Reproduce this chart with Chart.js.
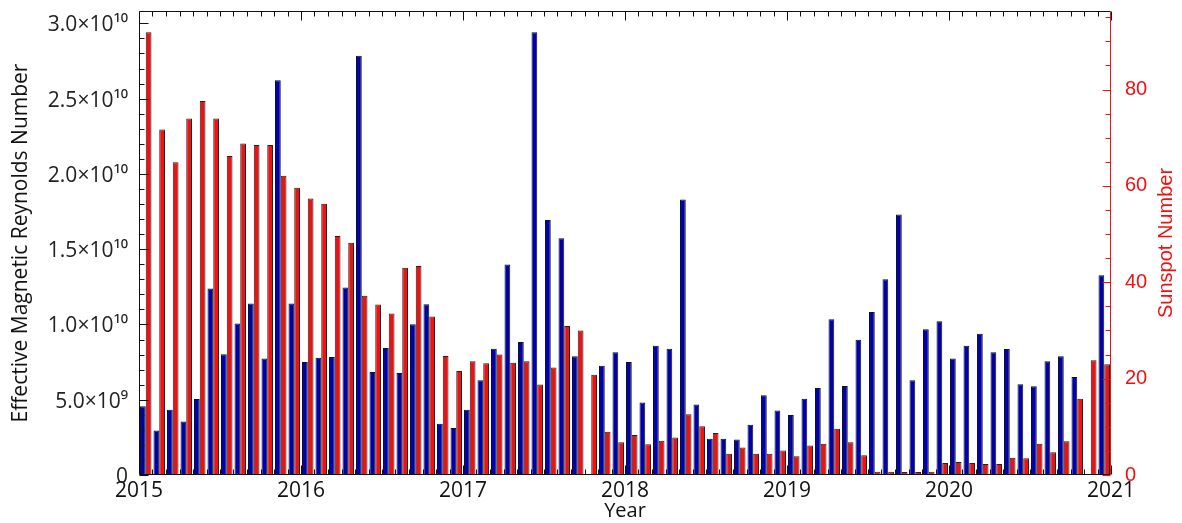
<!DOCTYPE html>
<html lang="en">
<head>
  <meta charset="UTF-8">
  <title>Effective Magnetic Reynolds Number vs Sunspot Number</title>
  <style>
    html, body { margin: 0; padding: 0; background: #fff; }
    #grafico { display: block; }
  </style>
</head>
<body>
  <canvas id="grafico" width="1182" height="523"></canvas>
  <script src="https://cdn.jsdelivr.net/npm/chart.js"></script>
  <script>
    // monthly data, Jan 2015 .. Dec 2020
    const startYear = 2015;
    const endYear = 2021;
    const months = [];
    for (let a = startYear; a < endYear; a++) {
      for (let m = 1; m <= 12; m++) months.push(a + '-' + String(m).padStart(2, '0'));
    }

    // effective magnetic Reynolds number, in units of 1e9 (null = no value)
    const reynolds = [
      4.56, 2.96, 4.33, 3.56, 5.04, 12.38, 8.02, 10.06, 11.39, 7.73, 26.22, 11.39,
      7.51, 7.79, 7.84, 12.45, 27.84, 6.84, 8.44, 6.77, 10.01, 11.34, 3.40, 3.12,
      4.33, 6.29, 8.39, 13.98, 8.84, 29.41, 16.93, 15.73, 7.88, null, 7.26, 8.15,
      7.51, 4.82, 8.59, 8.39, 18.30, 4.69, 2.41, 2.41, 2.36, 3.34, 5.29, 4.29,
      3.98, 5.07, 5.78, 10.34, 5.91, 8.99, 10.83, 13.00, 17.31, 6.29, 9.68, 10.21,
      7.73, 8.59, 9.39, 8.15, 8.37, 6.02, 5.89, 7.55, 7.88, 6.51, null, 13.27
    ];

    // monthly sunspot number
    const sunspots = [
      91.9, 71.7, 64.9, 74.0, 77.6, 74.0, 66.2, 68.8, 68.5, 68.5, 62.1, 59.6,
      57.4, 56.3, 49.6, 48.2, 37.2, 35.4, 33.5, 43.0, 43.4, 32.9, 24.7, 21.6,
      23.6, 23.2, 25.0, 23.3, 23.6, 18.8, 22.3, 30.9, 30.0, 20.8, 9.0, 6.8,
      8.3, 6.4, 7.1, 7.8, 12.6, 10.1, 8.7, 4.4, 5.7, 4.4, 4.4, 5.1,
      3.9, 6.1, 6.5, 9.6, 6.8, 4.1, 0.7, 0.7, 0.6, 0.6, 0.7, 2.5,
      2.7, 2.5, 2.3, 2.3, 3.6, 3.5, 6.5, 4.7, 7.0, 15.8, 23.8, 23.0
    ];

    const reynoldsTicks = [0, 5, 10, 15, 20, 25, 30];
    const reynoldsTickLabels = ['0', '5.0×10⁹', '1.0×10¹⁰', '1.5×10¹⁰', '2.0×10¹⁰', '2.5×10¹⁰', '3.0×10¹⁰'];
    const sunspotTicks = [0, 20, 40, 60, 80];
    const yearTicks = [2015, 2016, 2017, 2018, 2019, 2020, 2021];

    const reynoldsMax = 30.82;
    const sunspotMax = 96.3;

    const AZUL = '#0000b0';
    const VERMELHO = '#ee1111';

    // each month sits in the middle of its slot on the decimal-year axis
    const mesX = months.map((m, i) => startYear + (i + 0.5) / 12);

    // frame and inward IDL-style ticks, plus the right-hand title
    const moldura = {
      id: 'moldura',
      afterDatasetsDraw(chart) {
        const { ctx, chartArea: a, scales } = chart;
        const sx = scales.x, sy = scales.y, sy1 = scales.y1;
        const L = Math.round(a.left) + 0.5, R = Math.round(a.right) - 0.5;
        const T = Math.round(a.top) + 0.5, B = Math.round(a.bottom) - 0.5;
        ctx.save();
        ctx.lineWidth = 1;

        ctx.strokeStyle = '#111';
        ctx.beginPath();
        for (let m = 0; m <= months.length; m++) {
          const px = Math.round(sx.getPixelForValue(startYear + m / 12)) + 0.5;
          const len = m % 12 === 0 ? 9 : 5;
          ctx.moveTo(px, T); ctx.lineTo(px, T + len);
          ctx.moveTo(px, B); ctx.lineTo(px, B - len);
        }
        for (let v = 0; v <= 30; v++) {
          const py = Math.round(sy.getPixelForValue(v)) + 0.5;
          const len = v % 5 === 0 ? 9 : 5;
          ctx.moveTo(L, py); ctx.lineTo(L + len, py);
        }
        ctx.moveTo(R, T); ctx.lineTo(L, T); ctx.lineTo(L, B); ctx.lineTo(R, B);
        ctx.stroke();

        ctx.strokeStyle = VERMELHO;
        ctx.beginPath();
        ctx.moveTo(R, T); ctx.lineTo(R, B);
        for (let v = 0; v <= 95; v += 5) {
          const py = Math.round(sy1.getPixelForValue(v)) + 0.5;
          const len = v % 20 === 0 ? 8 : 5;
          ctx.moveTo(R, py); ctx.lineTo(R - len, py);
        }
        ctx.stroke();

        ctx.translate(1166, (a.top + a.bottom) / 2);
        ctx.rotate(-Math.PI / 2);
        ctx.fillStyle = VERMELHO;
        ctx.font = '20px "Liberation Sans", Arial, sans-serif';
        ctx.textAlign = 'center';
        ctx.textBaseline = 'middle';
        ctx.fillText('Sunspot Number', 0, 0);
        ctx.restore();
      }
    };

    const fonte = '"Open Sans", "DejaVu Sans", sans-serif';

    // fixed box sizes so the plot frame lands where the original has it
    const semPaddingVertical = s => { s.paddingTop = 0; s.paddingBottom = 0; };

    new Chart(document.getElementById('grafico'), {
      type: 'bar',
      data: {
        datasets: [{
          label: 'Effective Magnetic Reynolds Number',
          data: mesX.map((x, i) => ({ x: x, y: reynolds[i] })),
          yAxisID: 'y',
          backgroundColor: AZUL,
          borderColor: '#111',
          borderWidth: 1,
          categoryPercentage: 0.85,
          barPercentage: 1.0
        }, {
          label: 'Sunspot Number',
          data: mesX.map((x, i) => ({ x: x, y: sunspots[i] })),
          yAxisID: 'y1',
          backgroundColor: VERMELHO,
          borderColor: '#222',
          borderWidth: 1,
          categoryPercentage: 0.85,
          barPercentage: 1.0
        }]
      },
      options: {
        responsive: false,
        animation: false,
        devicePixelRatio: 1,
        layout: { padding: { top: 11, left: 0, right: 0, bottom: 0 } },
        plugins: {
          legend: { display: false },
          tooltip: { enabled: false }
        },
        scales: {
          x: {
            type: 'linear',
            position: 'bottom',
            min: startYear,
            max: endYear,
            offset: false,
            grid: { display: false, drawTicks: false },
            border: { display: false },
            afterBuildTicks: s => { s.ticks = yearTicks.map(v => ({ value: v })); },
            ticks: {
              autoSkip: false,
              maxRotation: 0,
              padding: 3,
              color: '#111',
              font: { family: fonte, size: 21 },
              callback: v => String(v)
            },
            title: {
              display: true,
              text: 'Year',
              color: '#111',
              font: { family: fonte, size: 20 },
              padding: { top: 0, bottom: 0 }
            },
            afterFit: s => { s.height = 48; s.paddingLeft = 0; s.paddingRight = 0; }
          },
          y: {
            type: 'linear',
            position: 'left',
            min: 0,
            max: reynoldsMax,
            grid: { display: false, drawTicks: false },
            border: { display: false },
            afterBuildTicks: s => { s.ticks = reynoldsTicks.map(v => ({ value: v })); },
            ticks: {
              padding: 11,
              labelOffset: 2,
              color: '#222',
              font: { family: fonte, size: 21 },
              callback: v => reynoldsTickLabels[reynoldsTicks.indexOf(Math.round(v))]
            },
            title: {
              display: true,
              text: 'Effective Magnetic Reynolds Number',
              color: '#111',
              font: { family: fonte, size: 21 },
              padding: { top: 8, bottom: 0 }
            },
            afterFit: s => { s.width = 139; semPaddingVertical(s); }
          },
          y1: {
            type: 'linear',
            position: 'right',
            min: 0,
            max: sunspotMax,
            grid: { display: false, drawTicks: false },
            border: { display: false },
            afterBuildTicks: s => { s.ticks = sunspotTicks.map(v => ({ value: v })); },
            ticks: {
              padding: 14,
              color: VERMELHO,
              font: { family: '"Liberation Sans", Arial, sans-serif', size: 20 },
              callback: v => String(v)
            },
            afterFit: s => { s.width = 71; semPaddingVertical(s); }
          }
        }
      },
      plugins: [moldura]
    });
  </script>
</body>
</html>
